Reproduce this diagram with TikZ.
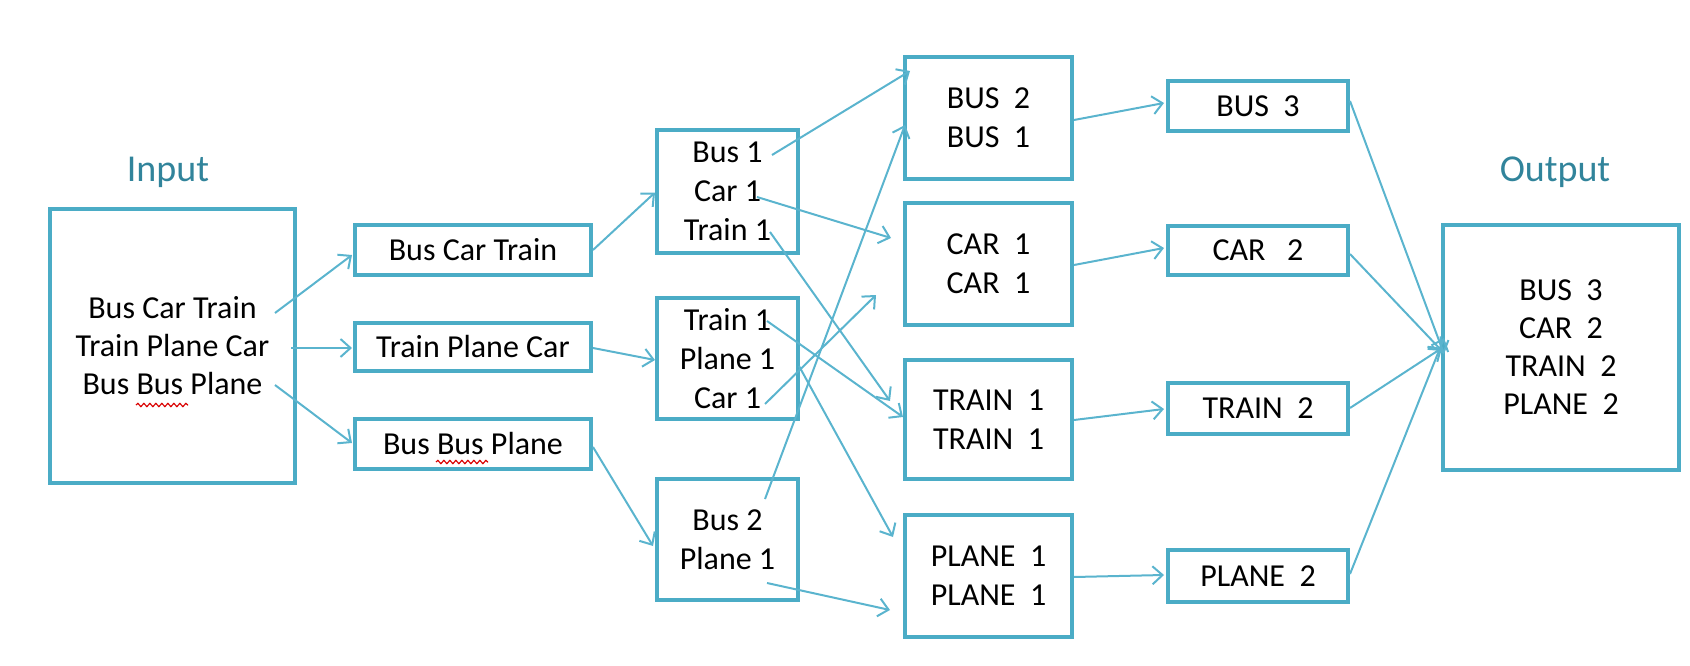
\documentclass[tikz,border=0pt]{standalone}
\usepackage{fontspec}
\setmainfont{Carlito}
\usetikzlibrary{arrows.meta,decorations.pathmorphing}
\definecolor{boxc}{HTML}{4BACC6}
\definecolor{arrc}{HTML}{5AB4CE}
\definecolor{labc}{HTML}{31849B}
\begin{document}
\begin{tikzpicture}[x=1pt,y=-1pt,
  box/.style={draw=boxc,line width=4pt,inner sep=0pt,align=center,
    font=\fontsize{32}{39}\selectfont},
  bigbox/.style={box,font=\fontsize{32}{38}\selectfont},
  lab/.style={text=labc,font=\fontsize{38}{44}\selectfont},
  arr/.style={draw=arrc,line width=2pt,-{Straight Barb[length=10pt,width=18pt]}},
  squig/.style={draw=red!85!black,line width=1.2pt,decorate,
    decoration={snake,amplitude=1.6pt,segment length=6pt}}]
\useasboundingbox (0,0) rectangle (1690,666);
% labels
\node[lab] (inlab) at (168,172) {Input};
\node[lab] (outlab) at (1555,172) {Output};
% boxes
\node[bigbox,minimum width=245pt,minimum height=274pt] (in) at (172.5,346)
  {Bus Car Train\\Train Plane Car\\Bus Bus Plane};
\node[box,minimum width=236pt,minimum height=50pt] (bct) at (473,250) {Bus Car Train};
\node[box,minimum width=236pt,minimum height=48pt] (tpc) at (473,346.5) {Train Plane Car};
\node[box,minimum width=236pt,minimum height=50pt] (bbp) at (473,443.5) {Bus Bus Plane};
\node[box,minimum width=141pt,minimum height=123pt] (A) at (727.5,191.5) {Bus 1\\Car 1\\Train 1};
\node[box,minimum width=141pt,minimum height=121pt] (B) at (727.5,358.5) {Train 1\\Plane 1\\Car 1};
\node[box,minimum width=141pt,minimum height=121pt] (C) at (727.5,539.5) {Bus 2\\Plane 1};
\node[box,minimum width=167pt,minimum height=122pt] (BUS) at (988.5,118) {BUS~~2\\BUS~~1};
\node[box,minimum width=167pt,minimum height=122pt] (CAR) at (988.5,264) {CAR~~1\\CAR~~1};
\node[box,minimum width=167pt,minimum height=119pt] (TRAIN) at (988.5,419.5) {TRAIN~~1\\TRAIN~~1};
\node[box,minimum width=167pt,minimum height=122pt] (PLANE) at (988.5,576) {PLANE~~1\\PLANE~~1};
\node[box,minimum width=180pt,minimum height=50pt] (BUS3) at (1258,106) {BUS~~3};
\node[box,minimum width=180pt,minimum height=49pt] (CAR2) at (1258,250.5) {CAR~~~2};
\node[box,minimum width=180pt,minimum height=51pt] (TRAIN2) at (1258,408.5) {TRAIN~~2};
\node[box,minimum width=180pt,minimum height=52pt] (PLANE2) at (1258,576) {PLANE~~2};
\node[bigbox,minimum width=236pt,minimum height=245pt] (out) at (1561,347.5)
  {BUS~~3\\CAR~~2\\TRAIN~~2\\PLANE~~2};
% spell-check squiggles
\draw[squig] (136,405) -- (188,405);
\draw[squig] (436,462) -- (488,462);
% start points inside boxes
\coordinate (s1) at (275,313);
\coordinate (s2) at (291,348);
\coordinate (s3) at (275,385);
\coordinate (sA1) at (772,155);
\coordinate (sA2) at (757,197);
\coordinate (sA3) at (770,232);
\coordinate (sB1) at (767,321);
\coordinate (sB2) at (799,366);
\coordinate (sB3) at (765,404);
\coordinate (sC1) at (765,499);
\coordinate (sC2) at (767,583);
% arrows
\draw[arr] (s1) -- ([shift={(-1,5)}]bct.west);
\draw[arr] (s2) -- ([shift={(-1,1.5)}]tpc.west);
\draw[arr] (s3) -- ([shift={(-1,-0.5)}]bbp.west);
\draw[arr] ([yshift=0pt]bct.east) -- ([yshift=-1pt]A.west);
\draw[arr] ([yshift=-1.5pt]tpc.east) -- ([yshift=-1.5pt]B.west);
\draw[arr] ([yshift=-3.5pt]bbp.east) -- ([shift={(-2,6.5)}]C.west);
\draw[arr] (sA1) -- ([shift={(7,16)}]BUS.north west);
\draw[arr] (sA2) -- ([shift={(-12,-26)}]CAR.west);
\draw[arr] (sA3) -- ([shift={(-13,-18.5)}]TRAIN.west);
\draw[arr] (sB1) -- ([shift={(0,-2.5)}]TRAIN.west);
\draw[arr] (sB2) -- ([shift={(-10,24)}]PLANE.north west);
\draw[arr] (sB3) -- ([shift={(-27,31)}]CAR.west);
\draw[arr] (sC1) -- ([shift={(2,7)}]BUS.west);
\draw[arr] (sC2) -- ([shift={(-13,34)}]PLANE.west);
\draw[arr] ([yshift=-2pt]BUS.east) -- ([shift={(-2,-3)}]BUS3.west);
\draw[arr] ([yshift=-1pt]CAR.east) -- ([shift={(-2,-2.5)}]CAR2.west);
\draw[arr] ([yshift=-0.5pt]TRAIN.east) -- ([shift={(-2,0.5)}]TRAIN2.west);
\draw[arr] ([yshift=-1pt]PLANE.east) -- ([shift={(-2,-1)}]PLANE2.west);
\draw[arr] ([yshift=5pt]BUS3.east) -- ([shift={(3,6.5)}]out.west);
\draw[arr] ([yshift=-3.5pt]CAR2.east) -- ([shift={(1,3.5)}]out.west);
\draw[arr] ([yshift=0.5pt]TRAIN2.east) -- ([shift={(1,0.5)}]out.west);
\draw[arr] ([yshift=2pt]PLANE2.east) -- ([shift={(3,-9.5)}]out.west);
\end{tikzpicture}
\end{document}
